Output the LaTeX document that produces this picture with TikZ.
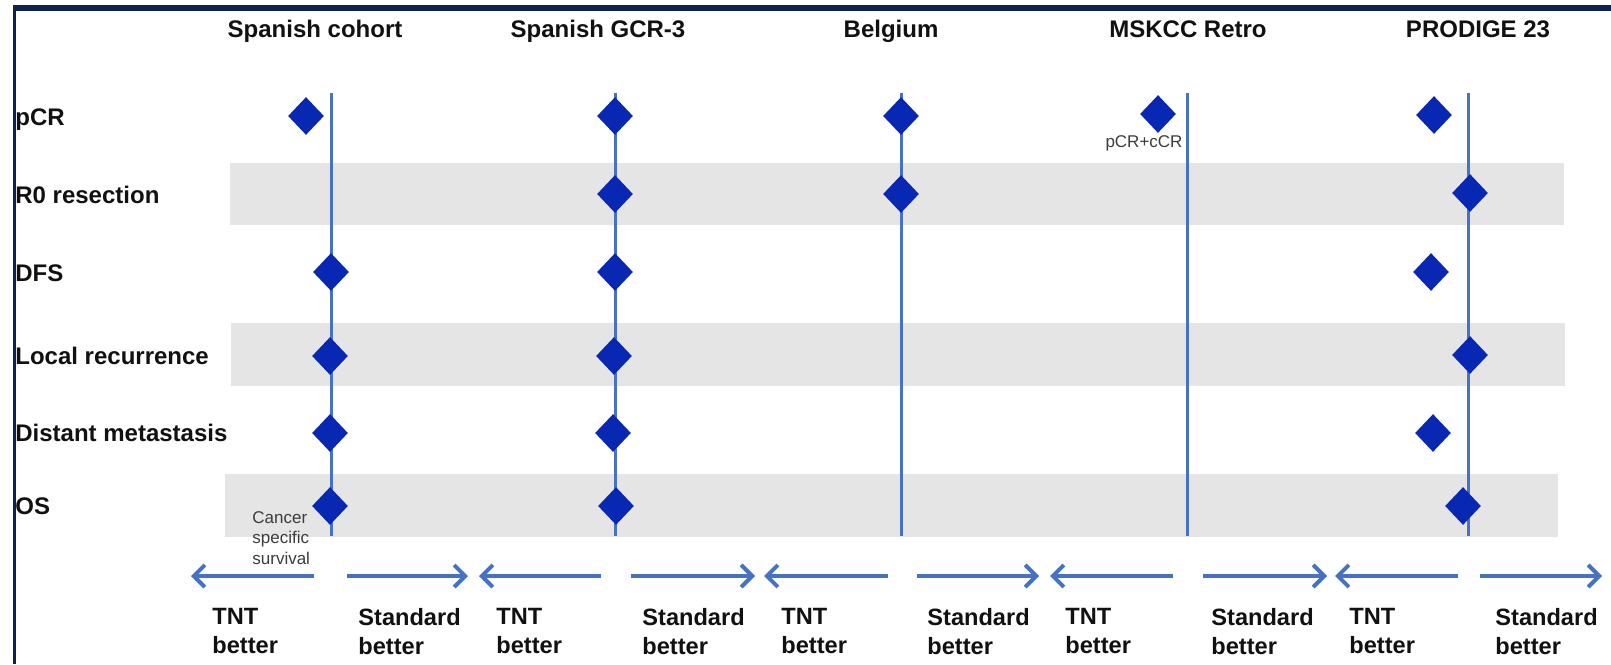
\documentclass[tikz,border=0pt]{standalone}
\usepackage{fontspec}
\setmainfont{Liberation Sans}
\usetikzlibrary{shapes.geometric,arrows.meta}
\definecolor{navy}{RGB}{14,34,78}
\definecolor{lineblue}{RGB}{70,114,196}
\definecolor{dblue}{RGB}{8,40,180}
\definecolor{bandgray}{RGB}{229,229,230}
\definecolor{txt}{RGB}{17,17,17}
\definecolor{smalltxt}{RGB}{60,60,60}
\tikzset{
 hdr/.style={font=\fontsize{12}{14}\selectfont\bfseries, text=txt, anchor=base, inner sep=0},
 rowlab/.style={font=\fontsize{12}{14}\selectfont\bfseries, text=txt, anchor=base west, inner sep=0},
 verdict/.style={font=\fontsize{11.8}{14.5}\selectfont\bfseries, text=txt, anchor=north west, inner sep=0, align=left},
 dia/.style={shape=diamond, fill=dblue, minimum width=18pt, minimum height=19pt, inner sep=0},
 vline/.style={draw=lineblue, line width=1.5pt},
 dirarrow/.style={draw=lineblue, line width=2pt, -{Straight Barb[length=5.5pt,width=11pt]}},
 note/.style={font=\fontsize{8.5}{10.2}\selectfont, text=smalltxt, inner sep=0},
 bandfill/.style={fill=bandgray},
 framefill/.style={fill=navy},
}
\begin{document}
\begin{tikzpicture}[x=0.5pt,y=-0.5pt]
\useasboundingbox (0,0) rectangle (1611,664);
\fill[white] (0,0) rectangle (1611,664);
% grey row bands
\fill[bandfill] (230,163) rectangle (1564,225);
\fill[bandfill] (231,323) rectangle (1565,386);
\fill[bandfill] (225,474) rectangle (1558,537);
% vertical reference lines
\foreach \i/\x in {1/331,2/615,3/901,4/1187,5/1468}{
  \coordinate (vt\i) at (\x,93);
  \coordinate (vb\i) at (\x,536);
  \draw[vline] (vt\i) -- (vb\i);
}
% headers
\node[hdr] (h1) at (315,38) {Spanish cohort};
\node[hdr] (h2) at (598,38) {Spanish GCR-3};
\node[hdr] (h3) at (891,38) {Belgium};
\node[hdr] (h4) at (1188,38) {MSKCC Retro};
\node[hdr] (h5) at (1478,38) {PRODIGE 23};
% row labels
\node[rowlab] (r1) at (15,125) {pCR};
\node[rowlab] (r2) at (15,203) {R0 resection};
\node[rowlab] (r3) at (15,281) {DFS};
\node[rowlab] (r4) at (15,364) {Local recurrence};
\node[rowlab] (r5) at (15,441) {Distant metastasis};
\node[rowlab] (r6) at (15,514) {OS};
% diamonds: Spanish cohort
\node[dia] (a1) at (306,116) {};
\node[dia] (a3) at (331,272) {};
\node[dia] (a4) at (330,356) {};
\node[dia] (a5) at (330,433) {};
\node[dia] (a6) at (330,506) {};
% Spanish GCR-3
\node[dia] (b1) at (615,116) {};
\node[dia] (b2) at (615,194) {};
\node[dia] (b3) at (615,272) {};
\node[dia] (b4) at (614,356) {};
\node[dia] (b5) at (613,433) {};
\node[dia] (b6) at (616,506) {};
% Belgium
\node[dia] (c1) at (901,116) {};
\node[dia] (c2) at (901,194) {};
% MSKCC
\node[dia] (e1) at (1158,114) {};
% PRODIGE 23
\node[dia] (f1) at (1434,115) {};
\node[dia] (f2) at (1470,193) {};
\node[dia] (f3) at (1431,272) {};
\node[dia] (f4) at (1470,355) {};
\node[dia] (f5) at (1433,433) {};
\node[dia] (f6) at (1463,506) {};
% small notes
\node[note] (n1) at (1144,143) {pCR+cCR};
\node[note, anchor=north west, align=left] (n2) at (252,511) {Cancer\\specific\\survival};
% direction arrows
\foreach \i/\lt/\ll/\rl/\rt in {1/191/314/347/468, 2/479/601/631/755, 3/764/888/917/1039, 4/1050/1173/1203/1327, 5/1335/1458/1480/1602}{
  \coordinate (lt\i) at (\lt,576);
  \coordinate (ll\i) at (\ll,576);
  \coordinate (rl\i) at (\rl,576);
  \coordinate (rt\i) at (\rt,576);
  \draw[dirarrow] (ll\i) -- (lt\i);
  \draw[dirarrow] (rl\i) -- (rt\i);
}
% verdict labels
\foreach \i/\tx/\sx in {1/212/358, 2/496/642, 3/781/927, 4/1065/1211, 5/1349/1495}{
  \node[verdict] (tnt\i) at (\tx,608) {TNT\\better};
  \node[verdict] (std\i) at (\sx,608) {Standard\\better};
}
% frame
\fill[framefill] (13,5) rectangle (1611,11);
\fill[framefill] (13,5) rectangle (16,664);
\end{tikzpicture}
\end{document}
